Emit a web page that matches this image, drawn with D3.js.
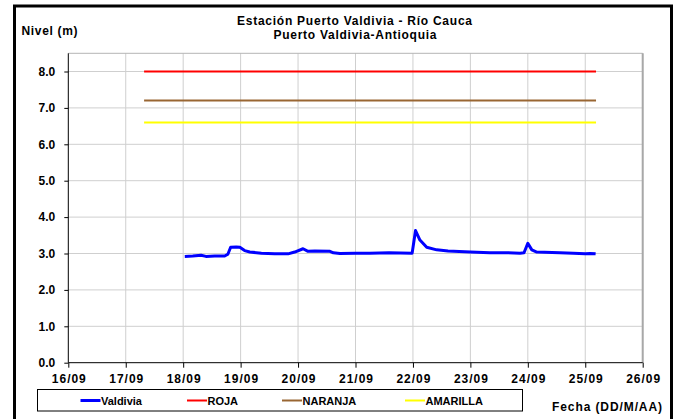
<!DOCTYPE html>
<html>
<head>
<meta charset="utf-8">
<script src="https://cdn.jsdelivr.net/npm/d3@7"></script>
<style>
  html, body { margin: 0; padding: 0; background: #fff; }
  svg { display: block; font-family: "Liberation Sans", Arial, sans-serif; font-weight: bold; }
</style>
</head>
<body>
<svg id="chart" width="679" height="419"></svg>
<script>
// ---- data ----
const titleLines = ["Estación Puerto Valdivia - Río Cauca", "Puerto Valdivia-Antioquia"];
const yAxisTitle = "Nivel (m)";
const xAxisTitle = "Fecha (DD/M/AA)";
const xDomain = ["16/09 00:00", "26/09 00:00"];
const yTicks = [0, 1, 2, 3, 4, 5, 6, 7, 8];
const seriesName = "Valdivia";
const seriesTimes = [
  "18/09 00:40", "18/09 04:00", "18/09 07:30", "18/09 09:30", "18/09 13:10", "18/09 17:20",
  "18/09 18:40", "18/09 19:50", "18/09 22:10", "18/09 23:40", "19/09 01:40", "19/09 03:50",
  "19/09 08:40", "19/09 14:15", "19/09 19:50", "19/09 22:35", "20/09 02:05", "20/09 04:10",
  "20/09 07:00", "20/09 13:20", "20/09 14:45", "20/09 17:30", "21/09 00:00", "21/09 06:00",
  "21/09 14:00", "21/09 23:40", "22/09 01:05", "22/09 02:55", "22/09 05:45", "22/09 09:55",
  "22/09 14:40", "23/09 00:00", "23/09 08:10", "23/09 15:00", "23/09 20:45", "23/09 22:25",
  "24/09 00:00", "24/09 01:40", "24/09 03:45", "24/09 13:25", "24/09 19:00", "25/09 00:00",
  "25/09 02:00", "25/09 04:20"
];
const seriesValues = [
  2.92, 2.93, 2.95, 2.92, 2.93, 2.93,
  2.98, 3.17, 3.18, 3.17, 3.08, 3.04,
  3.01, 2.99, 2.99, 3.04, 3.13, 3.06,
  3.07, 3.06, 3.02, 3.00, 3.01, 3.01,
  3.02, 3.01, 3.63, 3.37, 3.17, 3.10,
  3.07, 3.04, 3.02, 3.02, 3.01, 3.02,
  3.28, 3.10, 3.04, 3.02, 3.01, 2.99,
  3.00, 2.99
];
const thresholdNames = ["ROJA", "NARANJA", "AMARILLA"];
const thresholdValues = [8.0, 7.2, 6.6];
const thresholdStart = "17/09 07:40";
const thresholdEnd = "25/09 04:30";

// ---- styles ----
const colors = { Valdivia: "#0000ff", ROJA: "#ff0000", NARANJA: "#996633", AMARILLA: "#ffff00" };
const FONT = "Liberation Sans, Arial, sans-serif";

const parse = d3.timeParse("%d/%m %H:%M");
const svg = d3.select("#chart");
const m = { left: 68.3, right: 642.7, top: 53.3, bottom: 362.7 };

const x = d3.scaleTime().domain(xDomain.map(parse)).range([m.left, m.right]);
const y = d3.scaleLinear().domain([0, 8.5]).range([m.bottom, m.top]);

// outer frame
svg.append("rect").attr("x", 14.5).attr("y", 6).attr("width", 657).attr("height", 430)
  .attr("fill", "#fff").attr("stroke", "#000").attr("stroke-width", 3);

// gridlines
const days = d3.timeDay.range(x.domain()[0], d3.timeDay.offset(x.domain()[1], 1));
svg.append("g").selectAll("line").data(days.slice(1)).join("line")
  .attr("x1", d => x(d)).attr("x2", d => x(d))
  .attr("y1", m.top).attr("y2", m.bottom)
  .attr("stroke", "#cfcfcf").attr("stroke-width", 1);
svg.append("g").selectAll("line").data(yTicks.slice(1)).join("line")
  .attr("x1", m.left).attr("x2", m.right)
  .attr("y1", d => y(d)).attr("y2", d => y(d))
  .attr("stroke", "#cfcfcf").attr("stroke-width", 1);

// plot border top / right
svg.append("line").attr("x1", m.left).attr("x2", m.right).attr("y1", m.top).attr("y2", m.top)
  .attr("stroke", "#b4b4b4").attr("stroke-width", 1);
svg.append("line").attr("x1", m.right).attr("x2", m.right).attr("y1", m.top).attr("y2", m.bottom)
  .attr("stroke", "#a8a8a8").attr("stroke-width", 2);

// axes
const xAxis = d3.axisBottom(x).tickValues(days).tickFormat(d3.timeFormat("%d/%m")).tickSize(5).tickPadding(7);
const gx = svg.append("g").attr("transform", `translate(0,${m.bottom})`).call(xAxis);
gx.select(".domain").attr("stroke", "#000").attr("d", `M${m.left},0H${m.right}`);
gx.selectAll("text").attr("font-size", 12).attr("font-weight", "bold").attr("fill", "#000")
  .attr("font-family", FONT).attr("textLength", 34).attr("lengthAdjust", "spacing");

const yAxis = d3.axisLeft(y).tickValues(yTicks).tickFormat(d3.format(".1f")).tickSize(4).tickPadding(9);
const gy = svg.append("g").attr("transform", `translate(${m.left},0)`).call(yAxis);
gy.select(".domain").attr("stroke", "#000").attr("d", `M0,${m.bottom}V${m.top}`);
gy.selectAll("text").attr("font-size", 12).attr("font-weight", "bold").attr("fill", "#000")
  .attr("font-family", FONT);

// threshold lines
const t0 = parse(thresholdStart), t1 = parse(thresholdEnd);
thresholdNames.forEach((name, i) => {
  svg.append("line")
    .attr("x1", x(t0)).attr("x2", x(t1))
    .attr("y1", y(thresholdValues[i])).attr("y2", y(thresholdValues[i]))
    .attr("stroke", colors[name]).attr("stroke-width", 2);
});

// series
const series = seriesTimes.map((t, i) => ({ t: parse(t), v: seriesValues[i] }));
svg.append("path").datum(series)
  .attr("fill", "none").attr("stroke", colors.Valdivia).attr("stroke-width", 3)
  .attr("stroke-linejoin", "round")
  .attr("d", d3.line().x(d => x(d.t)).y(d => y(d.v)));

// titles
svg.append("text").attr("x", 354.5).attr("y", 25).attr("text-anchor", "middle")
  .attr("font-size", 12).attr("fill", "#000")
  .attr("textLength", 235).attr("lengthAdjust", "spacing").text(titleLines[0]);
svg.append("text").attr("x", 355).attr("y", 39).attr("text-anchor", "middle")
  .attr("font-size", 12).attr("fill", "#000")
  .attr("textLength", 163).attr("lengthAdjust", "spacing").text(titleLines[1]);
svg.append("text").attr("x", 21.5).attr("y", 34.5).attr("font-size", 12).attr("fill", "#000")
  .attr("textLength", 56).attr("lengthAdjust", "spacing").text(yAxisTitle);
svg.append("text").attr("x", 552).attr("y", 410.5).attr("font-size", 12).attr("fill", "#000")
  .attr("textLength", 110).attr("lengthAdjust", "spacing").text(xAxisTitle);

// legend
svg.append("rect").attr("x", 37.5).attr("y", 389.5).attr("width", 485).attr("height", 21.5)
  .attr("fill", "#fff").attr("stroke", "#000").attr("stroke-width", 1);
const legendNames = [seriesName].concat(thresholdNames);
const legendX = [80.5, 187, 282, 405];
legendNames.forEach((name, i) => {
  svg.append("line").attr("x1", legendX[i]).attr("x2", legendX[i] + 20)
    .attr("y1", 400.5).attr("y2", 400.5)
    .attr("stroke", colors[name]).attr("stroke-width", name === seriesName ? 3 : 2);
  svg.append("text").attr("x", legendX[i] + 20.5).attr("y", 404.5)
    .attr("font-size", 11).attr("fill", "#000").text(name);
});
</script>
</body>
</html>
